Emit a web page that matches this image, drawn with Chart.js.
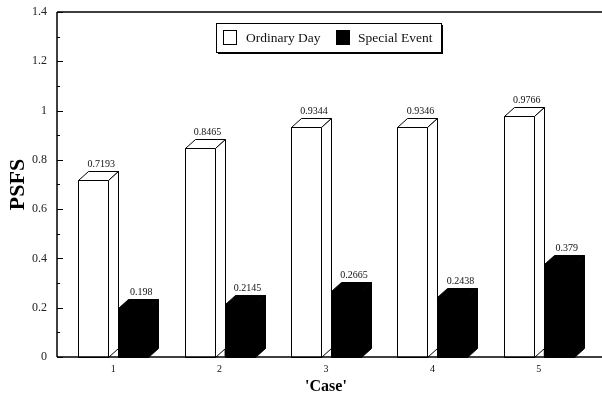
<!DOCTYPE html>
<html>
<head>
<meta charset="utf-8">
<script src="https://cdn.jsdelivr.net/npm/chart.js@4.4.0/dist/chart.umd.min.js"></script>
<style>
  html, body { margin: 0; padding: 0; background: #fff; overflow: hidden; }
  #wrap { width: 602px; height: 396px; position: relative; }
</style>
</head>
<body>
<div id="wrap"><canvas id="c"></canvas></div>
<script>
// Categories and series values
const categories = ['1', '2', '3', '4', '5'];
const ordinaryDay = [0.7193, 0.8465, 0.9344, 0.9346, 0.9766];
const specialEvent = [0.198, 0.2145, 0.2665, 0.2438, 0.379];
const seriesNames = ['Ordinary Day', 'Special Event'];
const yMin = 0, yMax = 1.4, yStep = 0.2;

const SERIF = "'Liberation Serif', 'Times New Roman', serif";
const DX = 10, DY = 9;        // depth offset of the 3D bars
const AXIS_X = 57;            // x of the drawn left axis line

// Draws each bar as a 3D box (front, top, side) plus its value label
const bar3d = {
  id: 'bar3d',
  afterDatasetsDraw(chart) {
    const ctx = chart.ctx;
    ctx.save();
    ctx.lineWidth = 1;
    ctx.lineJoin = 'miter';
    ctx.strokeStyle = '#000';
    chart.data.datasets.forEach((ds, di) => {
      const meta = chart.getDatasetMeta(di);
      meta.data.forEach((el, i) => {
        const L = Math.round(el.x - el.width / 2) + 0.5;
        const R = Math.round(el.x + el.width / 2) + 0.5;
        const T = Math.round(el.y) + 0.5;
        const B = Math.round(el.base) + 0.5;
        const fill = ds.backgroundColor;
        const face = (pts) => {
          ctx.beginPath();
          ctx.moveTo(pts[0][0], pts[0][1]);
          for (let k = 1; k < pts.length; k++) ctx.lineTo(pts[k][0], pts[k][1]);
          ctx.closePath();
          ctx.fillStyle = fill; ctx.fill();
          ctx.stroke();
        };
        face([[L, B], [L, T], [R, T], [R, B]]);
        face([[L, T], [L + DX, T - DY], [R + DX, T - DY], [R, T]]);
        face([[R, T], [R + DX, T - DY], [R + DX, B - DY], [R, B]]);
        ctx.fillStyle = '#111';
        ctx.font = '10px ' + SERIF;
        ctx.textAlign = 'center';
        ctx.textBaseline = 'middle';
        ctx.fillText(String(ds.data[i]), el.x + 8, T - DY - 7);
      });
    });
    ctx.restore();
  }
};

// Axis frame lines and inward tick marks
const frame = {
  id: 'frame',
  afterDraw(chart) {
    const ctx = chart.ctx;
    const ca = chart.chartArea;
    const y = chart.scales.y;
    ctx.save();
    ctx.strokeStyle = '#000';
    ctx.lineWidth = 1.5;
    ctx.beginPath();
    ctx.moveTo(AXIS_X, ca.top); ctx.lineTo(chart.width, ca.top);
    ctx.moveTo(AXIS_X, ca.bottom); ctx.lineTo(chart.width, ca.bottom);
    ctx.moveTo(AXIS_X, ca.top); ctx.lineTo(AXIS_X, ca.bottom);
    ctx.stroke();
    ctx.lineWidth = 1;
    ctx.beginPath();
    for (let k = 0; k <= Math.round((yMax - yMin) / (yStep / 2)); k++) {
      const v = yMin + k * yStep / 2;
      const py = Math.round(y.getPixelForValue(v)) + 0.5;
      const len = (k % 2 === 0) ? 6 : 3;
      ctx.moveTo(AXIS_X, py); ctx.lineTo(AXIS_X + len, py);
    }
    ctx.stroke();
    ctx.restore();
  }
};

// Framed legend with a drop shadow, inside the plot
const boxLegend = {
  id: 'boxLegend',
  afterDraw(chart) {
    const ctx = chart.ctx;
    const bx = 216, by = 23, bw = 225, bh = 29;
    ctx.save();
    ctx.fillStyle = '#000';
    ctx.fillRect(bx + 2, by + 2, bw, bh);
    ctx.fillStyle = '#fff';
    ctx.fillRect(bx, by, bw, bh);
    ctx.strokeStyle = '#000';
    ctx.lineWidth = 1;
    ctx.strokeRect(bx + 0.5, by + 0.5, bw, bh);
    const items = [
      { sx: 223, tx: 246 },
      { sx: 336, tx: 358 }
    ];
    chart.data.datasets.forEach((ds, i) => {
      const it = items[i];
      ctx.fillStyle = ds.backgroundColor;
      ctx.fillRect(it.sx, 30, 14, 15);
      ctx.strokeRect(it.sx + 0.5, 30.5, 13, 14);
      ctx.fillStyle = '#111';
      ctx.font = '13.5px ' + SERIF;
      ctx.textAlign = 'left';
      ctx.textBaseline = 'middle';
      ctx.fillText(ds.label, it.tx, 38);
    });
    ctx.restore();
  }
};

new Chart(document.getElementById('c'), {
  type: 'bar',
  data: {
    labels: categories,
    datasets: [
      { label: seriesNames[0], data: ordinaryDay, backgroundColor: '#ffffff', borderColor: '#000000', borderWidth: 0 },
      { label: seriesNames[1], data: specialEvent, backgroundColor: '#000000', borderColor: '#000000', borderWidth: 0 }
    ]
  },
  options: {
    responsive: true,
    maintainAspectRatio: false,
    animation: false,
    devicePixelRatio: 1,
    layout: { padding: { top: 12, right: 10, bottom: 0, left: 0 } },
    datasets: { bar: { categoryPercentage: 80 / 106.4, barPercentage: 0.75 } },
    plugins: { legend: { display: false }, tooltip: { enabled: false } },
    scales: {
      x: {
        grid: { display: false, drawTicks: false },
        border: { display: false },
        ticks: { color: '#111', font: { family: SERIF, size: 10 }, padding: 6 },
        title: { display: true, text: "'Case'", color: '#000', font: { family: SERIF, size: 16, weight: 'bold' }, padding: { top: 0, bottom: 0 } },
        afterFit(s) { s.height = 39; s.paddingLeft = 0; s.paddingRight = 0; }
      },
      y: {
        min: yMin, max: yMax,
        grid: { display: false, drawTicks: false },
        border: { display: false },
        ticks: {
          stepSize: yStep, color: '#222', font: { family: SERIF, size: 12 }, padding: 13,
          callback: (v) => String(parseFloat(v.toFixed(1)))
        },
        title: { display: true, text: 'PSFS', color: '#000', font: { family: SERIF, size: 22, weight: 'bold' }, padding: { top: 5, bottom: 0 } },
        afterFit(s) { s.width = 60; s.paddingTop = 0; s.paddingBottom = 0; }
      }
    }
  },
  plugins: [bar3d, frame, boxLegend]
});
</script>
</body>
</html>
